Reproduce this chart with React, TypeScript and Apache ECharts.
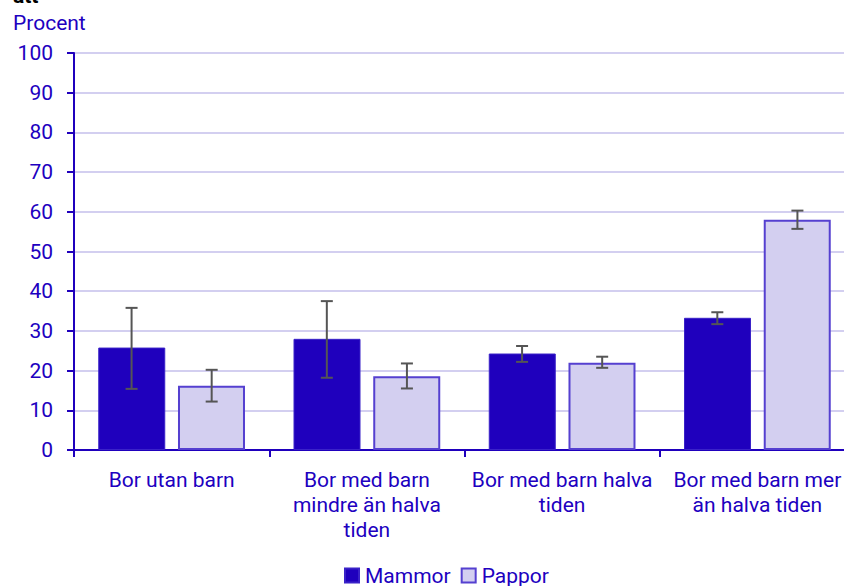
import React, { useEffect, useRef } from "react";
import * as echarts from "echarts";

const categories = [
  "Bor utan barn",
  "Bor med barn\nmindre än halva\ntiden",
  "Bor med barn halva\ntiden",
  "Bor med barn mer\nän halva tiden",
];
const mammor = [25.8, 28.0, 24.3, 33.3];
const mammorLow = [15.4, 18.2, 22.2, 31.7];
const mammorHigh = [35.8, 37.5, 26.2, 34.7];
const pappor = [16.2, 18.6, 22.0, 58.0];
const papporLow = [12.2, 15.5, 20.7, 55.7];
const papporHigh = [20.2, 21.8, 23.5, 60.3];
const yTicks = [0, 10, 20, 30, 40, 50, 60, 70, 80, 90, 100];

const DARK = "#1f00bd";
const LIGHT = "#d3cff0";
const TEXT = "#2000c0";
const FONT = "Roboto";
const FS = 21;

function errorSeries(low: number[], high: number[], offset: number) {
  return {
    type: "custom",
    data: low.map((l, i) => [i, l, high[i]]),
    z: 10,
    renderItem: (params: any, api: any) => {
      const idx = api.value(0);
      const band = api.size([1, 0])[0];
      const lo = api.coord([idx, api.value(1)]);
      const hi = api.coord([idx, api.value(2)]);
      const x = lo[0] + offset * band;
      const cap = 6;
      const style = { stroke: "#555555", lineWidth: 2 };
      return {
        type: "group",
        children: [
          { type: "line", shape: { x1: x, y1: lo[1], x2: x, y2: hi[1] }, style },
          { type: "line", shape: { x1: x - cap, y1: lo[1], x2: x + cap, y2: lo[1] }, style },
          { type: "line", shape: { x1: x - cap, y1: hi[1], x2: x + cap, y2: hi[1] }, style },
        ],
      };
    },
  };
}

export default function App() {
  const ref = useRef<HTMLDivElement>(null);
  useEffect(() => {
    const chart = echarts.init(ref.current!, undefined, { renderer: "svg" });
    chart.setOption({
      animation: false,
      textStyle: { fontFamily: FONT },
      grid: {
        left: 74,
        width: 781,
        top: 53,
        height: 397,
        containLabel: false,
        outerBoundsMode: "none",
      },
      graphic: [
        {
          type: "text",
          x: 13,
          y: -4,
          style: { text: "att", font: `bold ${FS}px ${FONT}`, fill: "#000", verticalAlign: "middle" },
        },
        {
          type: "text",
          x: 13,
          y: 23,
          style: { text: "Procent", font: `${FS}px ${FONT}`, fill: TEXT, verticalAlign: "middle" },
        },
      ],
      legend: {
        top: 565,
        left: 344,
        padding: 0,
        itemWidth: 14,
        itemHeight: 14,
        itemGap: 10,
        icon: "rect",
        textStyle: { color: TEXT, fontSize: FS, fontFamily: FONT, padding: [0, 0, 0, 1] },
        data: ["Mammor", "Pappor"],
      },
      xAxis: {
        type: "category",
        data: categories,
        axisLine: { lineStyle: { color: DARK, width: 2 } },
        axisTick: { show: true, length: 7, lineStyle: { color: DARK, width: 2 } },
        axisLabel: { color: TEXT, fontSize: FS, fontFamily: FONT, lineHeight: 25, margin: 17, interval: 0 },
      },
      yAxis: {
        type: "value",
        min: 0,
        max: 100,
        interval: 10,
        axisLine: { show: true, lineStyle: { color: DARK, width: 2 } },
        axisTick: { show: true, length: 7, lineStyle: { color: DARK, width: 2 } },
        axisLabel: {
          color: TEXT,
          fontSize: FS,
          fontFamily: FONT,
          margin: 21,
          formatter: (v: number) => (yTicks.includes(v) ? String(v) : ""),
        },
        splitLine: { lineStyle: { color: LIGHT, width: 2 } },
      },
      series: [
        {
          name: "Mammor",
          type: "bar",
          data: mammor,
          barWidth: 67,
          barGap: "19%",
          itemStyle: { color: DARK, borderColor: "#3a22c8", borderWidth: 1 },
        },
        {
          name: "Pappor",
          type: "bar",
          data: pappor,
          barWidth: 67,
          barGap: "19%",
          itemStyle: { color: LIGHT, borderColor: "#5540d0", borderWidth: 2 },
        },
        errorSeries(mammorLow, mammorHigh, -40 / 195),
        errorSeries(papporLow, papporHigh, 40 / 195),
      ],
    });
    return () => chart.dispose();
  }, []);
  return (
    <div
      ref={ref}
      style={{ position: "fixed", left: 0, top: 0, width: 844, height: 586, background: "#fff" }}
    />
  );
}
